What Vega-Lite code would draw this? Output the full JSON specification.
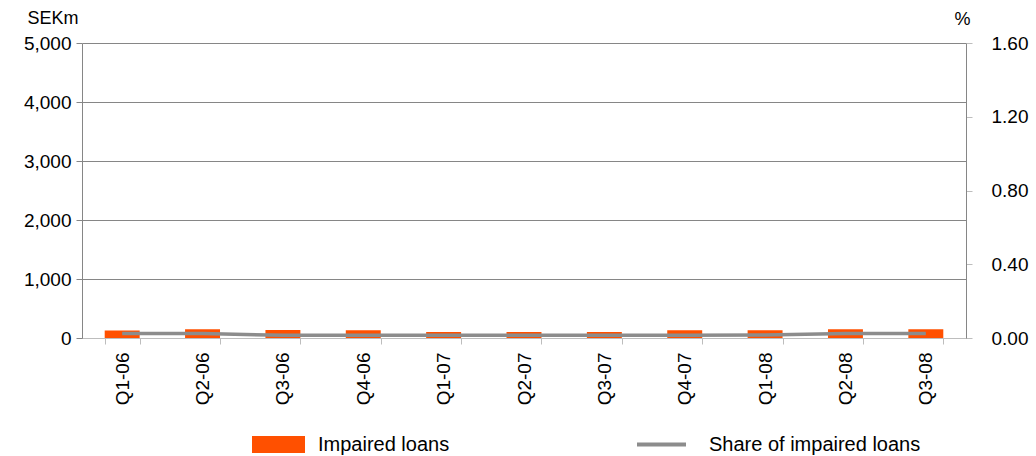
{
  "$schema": "https://vega.github.io/schema/vega-lite/v6.json",
  "width": 884,
  "height": 295,
  "autosize": {"type": "none"},
  "padding": {"left": 82, "top": 43, "right": 70, "bottom": 118},
  "background": "white",
  "config": {
    "view": {"stroke": null},
    "font": "Liberation Sans",
    "axis": {"labelFont": "Liberation Sans", "titleFont": "Liberation Sans", "labelColor": "#000", "titleColor": "#000", "titleFontWeight": "normal", "labelFontSize": 19, "titleFontSize": 18},
    "legend": {"labelFont": "Liberation Sans", "labelFontSize": 20, "labelColor": "#000", "padding": 0, "labelLimit": 0}
  },
  "data": {"values": [
    {"quarter": "Q1-06", "loans": 127, "share": 0.024},
    {"quarter": "Q2-06", "loans": 150, "share": 0.024},
    {"quarter": "Q3-06", "loans": 135, "share": 0.015},
    {"quarter": "Q4-06", "loans": 130, "share": 0.015},
    {"quarter": "Q1-07", "loans": 100, "share": 0.015},
    {"quarter": "Q2-07", "loans": 100, "share": 0.015},
    {"quarter": "Q3-07", "loans": 100, "share": 0.015},
    {"quarter": "Q4-07", "loans": 130, "share": 0.015},
    {"quarter": "Q1-08", "loans": 130, "share": 0.016},
    {"quarter": "Q2-08", "loans": 150, "share": 0.024},
    {"quarter": "Q3-08", "loans": 150, "share": 0.024}
  ]},
  "encoding": {
    "x": {
      "field": "quarter", "type": "nominal", "sort": null,
      "scale": {"paddingInner": 0.565, "paddingOuter": 0.2825},
      "axis": {"title": null, "labelAngle": -90, "labelPadding": 8, "tickBand": "extent", "tickSize": 6, "tickColor": "#bdbdbd", "domainColor": "#bdbdbd", "grid": false}
    }
  },
  "layer": [
    {
      "mark": {"type": "bar"},
      "encoding": {
        "y": {
          "field": "loans", "type": "quantitative", "scale": {"domain": [0, 5000]},
          "axis": {"values": [0, 1000, 2000, 3000, 4000, 5000], "format": ",d", "grid": true, "gridColor": "#868686", "domainColor": "#868686", "tickColor": "#868686", "tickSize": 6, "labelPadding": 5, "title": "SEKm", "titleAngle": 0, "titleAlign": "left", "titleBaseline": "alphabetic", "titleX": -55, "titleY": -20}
        },
        "color": {
          "datum": "Impaired loans", "type": "nominal", "scale": {"range": ["#FF5000"]},
          "legend": {"title": null, "orient": "none", "legendX": 170, "legendY": 375, "symbolType": "M-1,-0.32H1V0.32H-1Z", "symbolSize": 2809, "symbolStrokeWidth": 0, "symbolOpacity": 1, "labelOffset": 13}
        }
      }
    },
    {
      "mark": {"type": "line", "strokeWidth": 3.5},
      "encoding": {
        "y": {
          "field": "share", "type": "quantitative", "scale": {"domain": [0, 1.6]},
          "axis": {"orient": "right", "values": [0, 0.4, 0.8, 1.2, 1.6], "format": ".2f", "grid": false, "domainColor": "#868686", "tickColor": "#bdbdbd", "tickSize": 6, "labelPadding": 19, "title": "%", "titleAngle": 0, "titleAlign": "center", "titleBaseline": "alphabetic", "titleX": -4, "titleY": -19}
        },
        "stroke": {
          "datum": "Share of impaired loans", "type": "nominal", "scale": {"range": ["#8C8C8C"]},
          "legend": {"title": null, "orient": "none", "legendX": 553, "legendY": 375, "symbolType": "stroke", "symbolSize": 2401, "symbolStrokeWidth": 4, "labelOffset": 21}
        }
      }
    }
  ],
  "resolve": {"scale": {"y": "independent"}}
}
